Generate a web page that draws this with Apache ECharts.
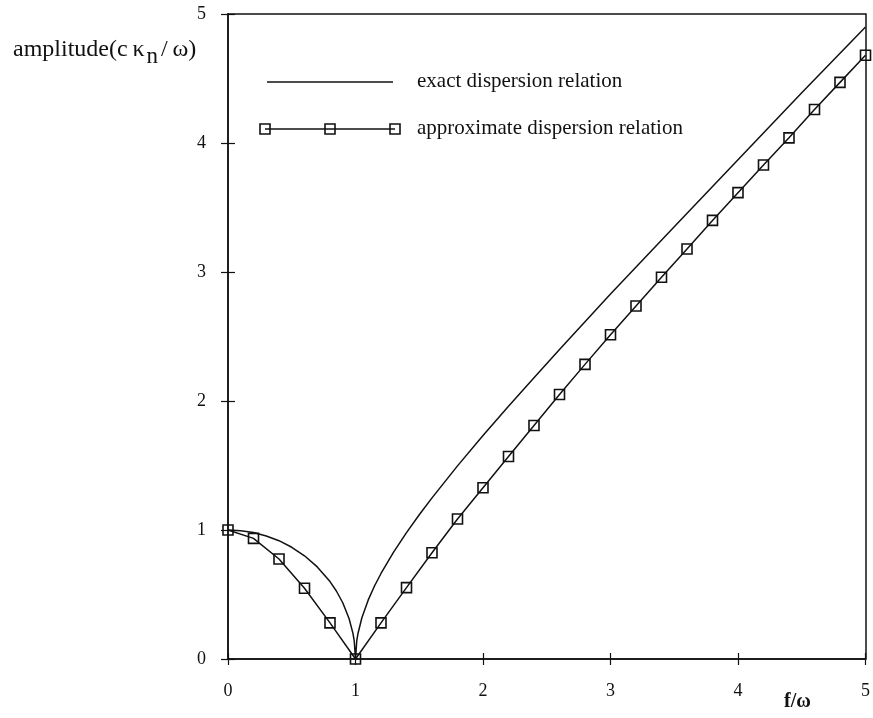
<!DOCTYPE html>
<html>
<head>
<meta charset="utf-8">
<script src="https://cdn.jsdelivr.net/npm/echarts@6/dist/echarts.min.js"></script>
<style>
  html, body { margin: 0; padding: 0; background: #fff; }
  #chart { width: 873px; height: 718px; }
</style>
</head>
<body>
<div id="chart"></div>
<script>
// Exact dispersion relation, sampled along f/ω
const exactF = [0, 0.1, 0.2, 0.3, 0.4, 0.5, 0.6, 0.7, 0.8, 0.85, 0.9, 0.95, 0.98, 0.99, 1.0,
                1.01, 1.02, 1.05, 1.1, 1.15, 1.2, 1.3, 1.4, 1.5, 1.6, 1.8, 2.0, 2.2, 2.4, 2.6,
                2.8, 3.0, 3.5, 4.0, 4.5, 5.0];
const exactAmp = [1.00, 0.995, 0.98, 0.954, 0.917, 0.866, 0.80, 0.714, 0.60, 0.527, 0.436, 0.312, 0.199, 0.141, 0,
                  0.142, 0.20, 0.32, 0.458, 0.568, 0.663, 0.83, 0.98, 1.118, 1.249, 1.497, 1.732, 1.96, 2.18, 2.40,
                  2.615, 2.83, 3.35, 3.87, 4.39, 4.90];

// Approximate dispersion relation (marked points)
const approxF = [0, 0.2, 0.4, 0.6, 0.8, 1.0, 1.2, 1.4, 1.6, 1.8, 2.0, 2.2, 2.4, 2.6, 2.8,
                 3.0, 3.2, 3.4, 3.6, 3.8, 4.0, 4.2, 4.4, 4.6, 4.8, 5.0];
const approxAmp = [1.00, 0.935, 0.775, 0.548, 0.28, 0, 0.28, 0.553, 0.824, 1.085, 1.328, 1.57, 1.81, 2.05, 2.284,
                   2.514, 2.736, 2.959, 3.178, 3.40, 3.615, 3.83, 4.04, 4.26, 4.47, 4.68];

const xTicks = [0, 1, 2, 3, 4, 5];
const yTicks = [0, 1, 2, 3, 4, 5];

const seriesNames = ['exact dispersion relation', 'approximate dispersion relation'];

const FONT = '"Liberation Serif", "DejaVu Serif", serif';
const INK = '#111';

const zip = (a, b) => a.map((v, i) => [v, b[i]]);

const chart = echarts.init(document.getElementById('chart'), null, { renderer: 'canvas' });

const gridBox = { left: 228, right: 4, top: 14, bottom: 59 };

function valueAxis(ticks, extra) {
  return Object.assign({
    type: 'value',
    min: ticks[0],
    max: ticks[ticks.length - 1],
    interval: ticks[1] - ticks[0],
    splitLine: { show: false },
    axisLine: { show: true, onZero: false, lineStyle: { color: INK, width: 1.5 } },
    axisTick: { show: true, length: 6, lineStyle: { color: INK, width: 1.2 } },
    axisLabel: { show: false }
  }, extra);
}

const tickLabel = {
  show: true, color: INK, fontFamily: FONT, fontSize: 18,
  formatter: v => String(v)
};

const option = {
  animation: false,
  backgroundColor: '#fff',
  title: {
    left: 8,
    top: 26,
    text: '{a|amplitude(c\u2009κ}{s|n}{a|/\u2009ω)}',
    textStyle: {
      rich: {
        a: { fontFamily: FONT, fontSize: 24, fontWeight: 'normal', color: INK },
        s: { fontFamily: FONT, fontSize: 23, fontWeight: 'normal', color: INK, padding: [14, 3, 0, 2] }
      }
    }
  },
  grid: [gridBox],
  xAxis: [
    // bottom axis: outward ticks and labels
    valueAxis(xTicks, {
      position: 'bottom',
      axisTick: { show: true, inside: false, length: 6, lineStyle: { color: INK, width: 1.2 } },
      axisLabel: Object.assign({ margin: 23 }, tickLabel)
    }),
    // bottom axis again: inward half of the crossing ticks
    valueAxis(xTicks, {
      position: 'bottom',
      axisTick: { show: true, inside: true, length: 6, lineStyle: { color: INK, width: 1.2 } }
    }),
    // top frame line
    valueAxis(xTicks, { position: 'top', axisTick: { show: false } })
  ],
  yAxis: [
    valueAxis(yTicks, {
      position: 'left',
      axisTick: { show: true, inside: false, length: 7, lineStyle: { color: INK, width: 1.2 } },
      axisLabel: Object.assign({ margin: 22 }, tickLabel)
    }),
    valueAxis(yTicks, {
      position: 'left',
      axisTick: { show: true, inside: true, length: 7, lineStyle: { color: INK, width: 1.2 } }
    }),
    // right frame line
    valueAxis(yTicks, { position: 'right', axisTick: { show: false } })
  ],
  series: [
    {
      name: seriesNames[0],
      type: 'line',
      data: zip(exactF, exactAmp),
      showSymbol: false,
      smooth: false,
      lineStyle: { color: INK, width: 1.5 },
      emphasis: { disabled: true },
      z: 3
    },
    {
      name: seriesNames[1],
      type: 'line',
      data: zip(approxF, approxAmp),
      symbol: 'rect',
      symbolSize: 10,
      showSymbol: true,
      lineStyle: { color: INK, width: 1.5 },
      itemStyle: { color: 'rgba(0,0,0,0)', borderColor: INK, borderWidth: 1.6 },
      emphasis: { disabled: true },
      z: 4
    }
  ],
  graphic: [
    // legend: exact relation
    { type: 'line', shape: { x1: 267, y1: 82, x2: 393, y2: 82 }, style: { stroke: INK, lineWidth: 1.5 } },
    { type: 'text', left: 417, top: 71, style: { text: seriesNames[0], font: '21px ' + FONT, fill: INK } },
    // legend: approximate relation
    { type: 'line', shape: { x1: 265, y1: 129, x2: 395, y2: 129 }, style: { stroke: INK, lineWidth: 1.5 } },
    { type: 'rect', shape: { x: 260, y: 124, width: 10, height: 10 }, style: { fill: 'none', stroke: INK, lineWidth: 1.6 } },
    { type: 'rect', shape: { x: 325, y: 124, width: 10, height: 10 }, style: { fill: 'none', stroke: INK, lineWidth: 1.6 } },
    { type: 'rect', shape: { x: 390, y: 124, width: 10, height: 10 }, style: { fill: 'none', stroke: INK, lineWidth: 1.6 } },
    { type: 'text', left: 417, top: 118, style: { text: seriesNames[1], font: '21px ' + FONT, fill: INK } },
    // x axis name
    { type: 'text', left: 784, top: 692, style: { text: 'f/ω', font: 'bold 20px ' + FONT, fill: INK } }
  ]
};

option.series.forEach(s => { s.xAxisIndex = 0; s.yAxisIndex = 0; });

chart.setOption(option);
</script>
</body>
</html>
